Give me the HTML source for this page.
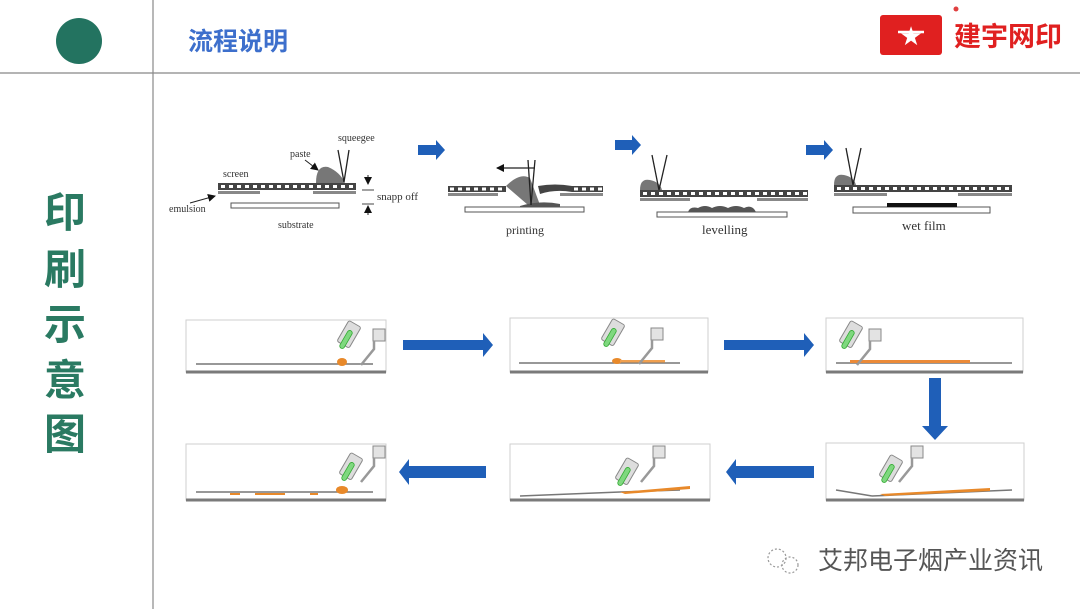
<!DOCTYPE html>
<html><head><meta charset="utf-8"><style>
html,body{margin:0;padding:0;background:#fff;}
body{width:1080px;height:609px;overflow:hidden;position:relative;font-family:"Liberation Sans","Noto Sans CJK SC",sans-serif;}
</style></head><body>
<svg width="1080" height="609" viewBox="0 0 1080 609" xmlns="http://www.w3.org/2000/svg" style="position:absolute;left:0;top:0">
<defs>
<marker id="ah" markerWidth="8" markerHeight="8" refX="7" refY="4" orient="auto" markerUnits="userSpaceOnUse"><path d="M0,0 L8,4 L0,8 z" fill="#111"/></marker>
<g id="tool">
  <g transform="rotate(30)">
    <rect x="-7" y="-14" width="14" height="24" rx="2" fill="#ddd" stroke="#888" stroke-width="1"/>
    <rect x="-2.5" y="-6" width="5" height="20" rx="2.5" fill="#7fd87f" stroke="#3a3" stroke-width="0.8"/>
  </g>
</g>
<g id="sq">
  <rect x="0" y="0" width="12" height="12" fill="#e3e3e3" stroke="#888" stroke-width="1"/>
  <path d="M1,12 L1,20 L-12,36" fill="none" stroke="#999" stroke-width="2.5"/>
</g>
</defs>

<line x1="153" y1="0" x2="153" y2="609" stroke="#888" stroke-width="1.2"/>
<line x1="0" y1="73" x2="1080" y2="73" stroke="#888" stroke-width="1.2"/>
<circle cx="79" cy="41" r="23" fill="#237360"/>
<text x="188" y="50" font-size="25" font-weight="bold" fill="#3d6fcc" font-family="Noto Sans CJK SC,sans-serif">流程说明</text>
<rect x="880" y="15" width="62" height="40" rx="3" fill="#e02020"/>
<text x="911" y="45" font-size="26" text-anchor="middle" fill="#fff" font-family="DejaVu Sans,sans-serif">★</text>
<line x1="898" y1="32" x2="924" y2="32" stroke="#fff" stroke-width="2.5"/>
<circle cx="956" cy="9" r="2.5" fill="#e04040"/>
<text x="954" y="46" font-size="27" font-weight="bold" fill="#e02020" font-family="Noto Sans CJK SC,sans-serif">建宇网印</text>

<g font-size="42" font-weight="bold" fill="#2a7a62" text-anchor="middle" font-family="Noto Sans CJK SC,sans-serif">
<text x="65" y="227">印</text><text x="65" y="284">刷</text><text x="65" y="339">示</text><text x="65" y="395">意</text><text x="65" y="449">图</text>
</g>

<g font-family="Liberation Serif,serif" font-size="10" fill="#333">
<rect x="218" y="183" width="138" height="7" fill="#444"/>
<line x1="221" y1="186.5" x2="356" y2="186.5" stroke="#fff" stroke-width="3" stroke-dasharray="4,4"/>
<rect x="218" y="191" width="42" height="3" fill="#888"/>
<rect x="313" y="191" width="43" height="3" fill="#888"/>
<rect x="231" y="203" width="108" height="5" fill="#fff" stroke="#555" stroke-width="1"/>
<path d="M316,183 Q316,165 328,167 Q340,172 345,183 z" fill="#777"/>
<line x1="338" y1="150" x2="344" y2="182" stroke="#222" stroke-width="1.3"/>
<line x1="349" y1="150" x2="344" y2="182" stroke="#222" stroke-width="1.3"/>
<text x="338" y="141">squeegee</text>
<text x="290" y="157">paste</text>
<line x1="305" y1="160" x2="318" y2="170" stroke="#222" marker-end="url(#ah)"/>
<text x="223" y="177">screen</text>
<text x="169" y="212">emulsion</text>
<line x1="190" y1="203" x2="215" y2="196" stroke="#222" marker-end="url(#ah)"/>
<text x="278" y="228">substrate</text>
<line x1="368" y1="175" x2="368" y2="184" stroke="#222" marker-end="url(#ah)"/>
<line x1="368" y1="215" x2="368" y2="206" stroke="#222" marker-end="url(#ah)"/>
<line x1="362" y1="190" x2="374" y2="190" stroke="#444"/>
<line x1="362" y1="204" x2="374" y2="204" stroke="#444"/>
<text x="377" y="200" font-size="11">snapp off</text>
</g>
<g fill="#1f5fb8">
<path d="M418,145 h18 v-5 l9,10 l-9,10 v-5 h-18 z"/>
<path d="M615,140 h17 v-5 l9,10 l-9,10 v-5 h-17 z"/>
<path d="M806,145 h18 v-5 l9,10 l-9,10 v-5 h-18 z"/>
</g>
<g font-family="Liberation Serif,serif" fill="#333">
<rect x="448" y="186" width="58" height="6" fill="#444"/>
<line x1="450" y1="189" x2="506" y2="189" stroke="#fff" stroke-width="3" stroke-dasharray="4,4"/>
<rect x="448" y="193" width="50" height="3" fill="#888"/>
<path d="M506,186 Q520,172 530,178 L540,205 L528,205 z" fill="#777"/>
<path d="M538,186 Q555,183 572,186 L572,192 Q555,189 540,194 z" fill="#444"/>
<rect x="572" y="186" width="31" height="6" fill="#444"/>
<line x1="574" y1="189" x2="603" y2="189" stroke="#fff" stroke-width="3" stroke-dasharray="4,4"/>
<rect x="560" y="193" width="43" height="3" fill="#888"/>
<rect x="465" y="207" width="119" height="5" fill="#fff" stroke="#555"/>
<path d="M520,206 Q540,200 560,204 L560,207 L520,207 z" fill="#555"/>
<line x1="528" y1="160" x2="531" y2="205" stroke="#222" stroke-width="1.3"/>
<line x1="535" y1="160" x2="531" y2="205" stroke="#222" stroke-width="1.3"/>
<line x1="535" y1="168" x2="497" y2="168" stroke="#222" stroke-width="1.3" marker-end="url(#ah)"/>
<text x="506" y="234" font-size="12">printing</text>
</g>
<g font-family="Liberation Serif,serif" fill="#333">
<rect x="640" y="190" width="168" height="7" fill="#444"/>
<line x1="643" y1="193.5" x2="808" y2="193.5" stroke="#fff" stroke-width="3" stroke-dasharray="4,4"/>
<rect x="640" y="198" width="50" height="3" fill="#888"/>
<rect x="757" y="198" width="51" height="3" fill="#888"/>
<path d="M640,190 Q640,178 650,180 Q660,182 662,190 z" fill="#777"/>
<line x1="652" y1="155" x2="659" y2="190" stroke="#222" stroke-width="1.3"/>
<line x1="667" y1="155" x2="659" y2="190" stroke="#222" stroke-width="1.3"/>
<rect x="657" y="212" width="130" height="5" fill="#fff" stroke="#555"/>
<path d="M688,212 Q690,206 698,208 Q705,204 712,208 Q720,204 728,208 Q736,204 744,208 Q752,204 756,212 z" fill="#555"/>
<text x="702" y="234" font-size="13">levelling</text>
</g>
<g font-family="Liberation Serif,serif" fill="#333">
<rect x="834" y="185" width="178" height="7" fill="#444"/>
<line x1="837" y1="188.5" x2="1012" y2="188.5" stroke="#fff" stroke-width="3" stroke-dasharray="4,4"/>
<rect x="834" y="193" width="53" height="3" fill="#888"/>
<rect x="958" y="193" width="54" height="3" fill="#888"/>
<path d="M834,185 Q834,173 844,175 Q854,177 856,185 z" fill="#777"/>
<line x1="846" y1="148" x2="853" y2="185" stroke="#222" stroke-width="1.3"/>
<line x1="861" y1="148" x2="853" y2="185" stroke="#222" stroke-width="1.3"/>
<rect x="853" y="207" width="137" height="6" fill="#fff" stroke="#555"/>
<rect x="887" y="203" width="70" height="4" fill="#111"/>
<text x="902" y="230" font-size="13">wet film</text>
</g>

<g stroke="#cfcfcf" stroke-width="1" fill="#fff">
<rect x="186" y="320" width="200" height="52"/>
<rect x="510" y="318" width="198" height="54"/>
<rect x="826" y="318" width="197" height="54"/>
<rect x="186" y="444" width="200" height="56"/>
<rect x="510" y="444" width="200" height="56"/>
<rect x="826" y="443" width="198" height="57"/>
</g>
<g stroke="#7a7a7a" stroke-width="3">
<line x1="186" y1="372" x2="386" y2="372"/>
<line x1="510" y1="372" x2="708" y2="372"/>
<line x1="826" y1="372" x2="1023" y2="372"/>
<line x1="186" y1="500" x2="386" y2="500"/>
<line x1="510" y1="500" x2="710" y2="500"/>
<line x1="826" y1="500" x2="1024" y2="500"/>
</g>
<g stroke="#777" stroke-width="1.5">
<line x1="196" y1="364" x2="373" y2="364"/>
<line x1="519" y1="363" x2="680" y2="363"/>
<line x1="836" y1="363" x2="1012" y2="363"/>
<line x1="196" y1="492" x2="373" y2="492"/>
<line x1="520" y1="496" x2="620" y2="492"/><line x1="620" y1="492" x2="680" y2="490"/>
<line x1="836" y1="490" x2="872" y2="496"/><line x1="872" y1="496" x2="1012" y2="490"/>
</g>
<g fill="#e8892a">
<ellipse cx="342" cy="362" rx="5" ry="4"/>
<ellipse cx="617" cy="361" rx="5" ry="3"/>
<rect x="620" y="360" width="45" height="2.5" fill="#f0a050"/>
<rect x="850" y="360" width="120" height="3" fill="#eb8a38"/>
<ellipse cx="342" cy="490" rx="6" ry="4"/>
<rect x="230" y="493" width="10" height="2"/><rect x="255" y="493" width="30" height="2"/><rect x="310" y="493" width="8" height="2"/>
<path d="M620,492 L690,486 L690,489 L625,494 z"/>
<path d="M880,494 L990,488 L990,491 L885,496 z"/>
</g>
<use href="#tool" transform="translate(348,336)"/><use href="#sq" transform="translate(373,329)"/>
<use href="#tool" transform="translate(612,334)"/><use href="#sq" transform="translate(651,328)"/>
<use href="#tool" transform="translate(850,336)"/><use href="#sq" transform="translate(869,329)"/>
<use href="#tool" transform="translate(350,468)"/><use href="#sq" transform="translate(373,446)"/>
<use href="#tool" transform="translate(626,473)"/><use href="#sq" transform="translate(653,446)"/>
<use href="#tool" transform="translate(890,470)"/><use href="#sq" transform="translate(911,446)"/>

<g fill="#1f5fb8">
<path d="M403,340 h80 v-7 l10,12 l-10,12 v-7 h-80 z"/>
<path d="M724,340 h80 v-7 l10,12 l-10,12 v-7 h-80 z"/>
<path d="M929,378 h12 v48 h7 l-13,14 l-13,-14 h7 z"/>
<path d="M486,466 h-77 v-7 l-10,13 l10,13 v-7 h77 z"/>
<path d="M814,466 h-78 v-7 l-10,13 l10,13 v-7 h78 z"/>
</g>

<g stroke="#999" fill="none" stroke-width="1.2" stroke-dasharray="2,2">
<circle cx="777" cy="558" r="9"/><circle cx="790" cy="565" r="8"/>
</g>
<text x="818" y="569" font-size="25" fill="#555" font-family="Noto Sans CJK SC,sans-serif">艾邦电子烟产业资讯</text>
</svg>
</body></html>
